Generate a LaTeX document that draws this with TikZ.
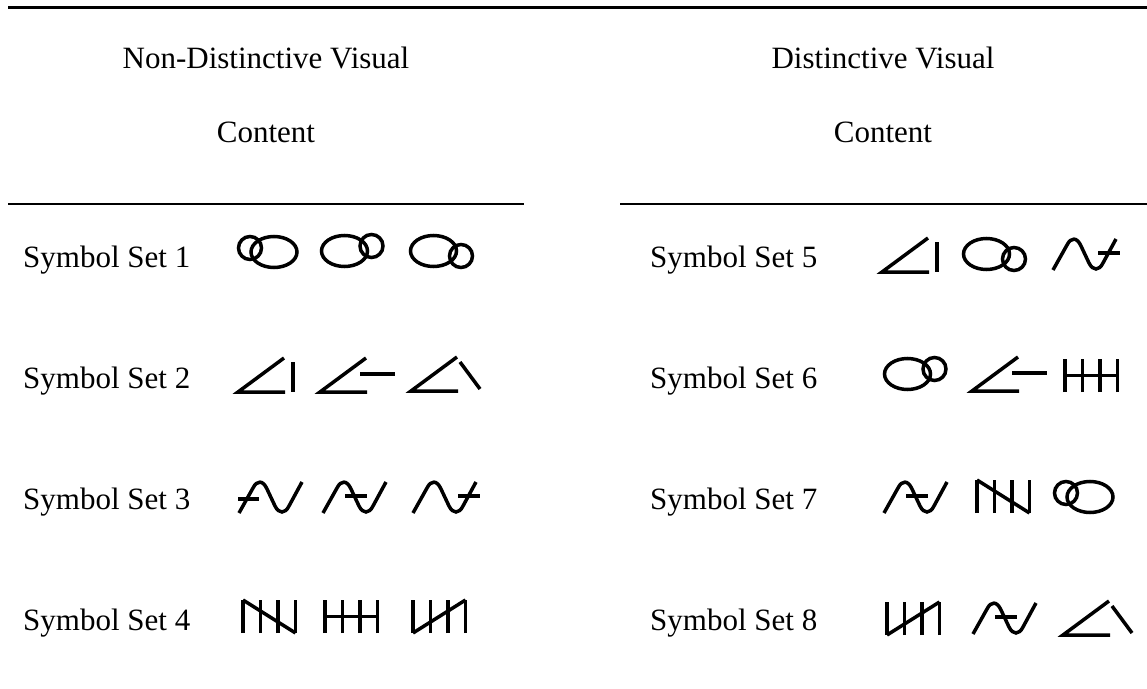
\documentclass[tikz,border=0pt]{standalone}
\usepackage{fontspec}
\setmainfont{Liberation Serif}
\tikzset{
  rule/.style={line width=2.2bp},
  glyph/.style={line width=3.5bp},
  txt/.style={font=\fontsize{31bp}{37bp}\selectfont, inner sep=0pt},
  lbl/.style={txt, anchor=base west},
  hdr/.style={txt, anchor=base},
  % ellipse + circle
  symA1/.pic={\draw[glyph] (12,-20) circle[radius=11.5bp];
              \draw[glyph] (36,-16) ellipse[x radius=23bp, y radius=15.5bp];},
  symA2/.pic={\draw[glyph] (23.5,-16) ellipse[x radius=23bp, y radius=15.5bp];
              \draw[glyph] (50.5,-21) circle[radius=11.5bp];},
  symA3/.pic={\draw[glyph] (23.5,-16) ellipse[x radius=23bp, y radius=15.5bp];
              \draw[glyph] (51,-11) circle[radius=11.5bp];},
  % angle + stroke
  angle/.pic={\draw[glyph] (46,-34) -- (0,0) -- (47,0);},
  symB1/.pic={\pic{angle}; \draw[glyph] (55,-30) -- (55,0);},
  symB2/.pic={\pic{angle}; \draw[glyph] (40,-18) -- (75,-18);},
  symB3/.pic={\pic{angle}; \draw[glyph] (49,-29) -- (69,-2);},
  % wave + crossbar
  wave/.pic={\draw[glyph] (0,0) -- (14,-25) .. controls (18,-33) and (24,-33) .. (28,-24)
              -- (36,-7) .. controls (40,1) and (46,1) .. (50,-7) -- (63,-31);},
  symC1/.pic={\pic{wave}; \draw[glyph] (-1,-14) -- (20,-14);},
  symC2/.pic={\pic{wave}; \draw[glyph] (22,-17) -- (44,-17);},
  symC3/.pic={\pic{wave}; \draw[glyph] (45,-17) -- (67,-17);},
  % four bars + connector
  bars/.pic={\foreach \i in {0,17.5,35,52.5} \draw[glyph] (\i,0) -- (\i,-33);},
  symD1/.pic={\pic{bars}; \draw[glyph] (0,-33) -- (52.5,0);},
  symD2/.pic={\pic{bars}; \draw[glyph] (0,-16.5) -- (52.5,-16.5);},
  symD3/.pic={\pic{bars}; \draw[glyph] (0,0) -- (52.5,-33);},
}
\begin{document}
\begin{tikzpicture}[x=1bp,y=-1bp]
\useasboundingbox (0,0) rectangle (1147,689);
% rules
\coordinate (t0) at (8,7.5);
\coordinate (t1) at (1147,7.5);
\coordinate (l0) at (8,204);
\coordinate (l1) at (524,204);
\coordinate (r0) at (620,204);
\coordinate (r1) at (1147,204);
\draw[rule] (t0) -- (t1);
\draw[rule] (l0) -- (l1);
\draw[rule] (r0) -- (r1);
% headers
\node[hdr] (hl1) at (266,69) {Non-Distinctive Visual};
\node[hdr] (hl2) at (266,143) {Content};
\node[hdr] (hr1) at (883,69) {Distinctive Visual};
\node[hdr] (hr2) at (883,143) {Content};
% row labels
\node[lbl] (s1) at (23,267) {Symbol Set 1};
\node[lbl] (s2) at (23,388) {Symbol Set 2};
\node[lbl] (s3) at (23,509) {Symbol Set 3};
\node[lbl] (s4) at (23,630) {Symbol Set 4};
\node[lbl] (s5) at (650,267) {Symbol Set 5};
\node[lbl] (s6) at (650,388) {Symbol Set 6};
\node[lbl] (s7) at (650,509) {Symbol Set 7};
\node[lbl] (s8) at (650,630) {Symbol Set 8};
% left symbols
\pic at (238,268) {symA1};
\pic at (321,267) {symA2};
\pic at (410,267) {symA3};
\pic at (238,392) {symB1};
\pic at (320,392) {symB2};
\pic at (411,391) {symB3};
\pic at (239,513) {symC1};
\pic at (323,513) {symC2};
\pic at (413,513) {symC3};
\pic at (243,633) {symD1};
\pic at (325,633) {symD2};
\pic at (413,633) {symD3};
% right symbols
\pic at (882,272) {symB1};
\pic at (963,270) {symA3};
\pic at (1053,270) {symC3};
\pic at (884,390) {symA2};
\pic at (972,391) {symB2};
\pic at (1065,392) {symD2};
\pic at (884,513) {symC2};
\pic at (977,513) {symD1};
\pic at (1054,513) {symA1};
\pic at (887,635) {symD3};
\pic at (973,634) {symC2};
\pic at (1063,635) {symB3};
\end{tikzpicture}
\end{document}
